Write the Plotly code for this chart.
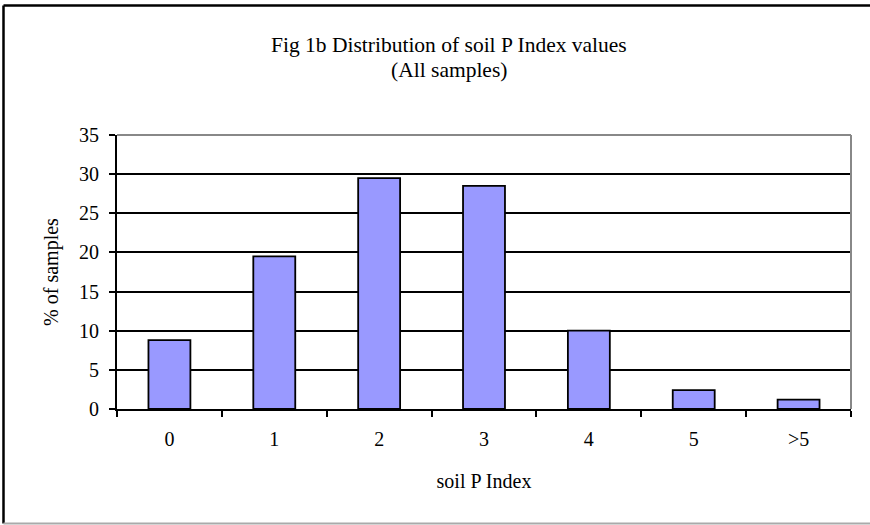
import plotly.graph_objects as go

categories = ["0", "1", "2", "3", "4", "5", ">5"]
values = [8.8, 19.5, 29.5, 28.5, 10.0, 2.4, 1.2]
y_ticks = [0, 5, 10, 15, 20, 25, 30, 35]
title_lines = ["Fig 1b Distribution of soil P Index values", "(All samples)"]

W, H = 870, 525
L, R, T, B = 117, 851, 135, 409

def px(x):
    return (x - L) / (R - L)

def py(y):
    return (B - y) / (B - T)

fig = go.Figure(go.Bar(
    x=categories, y=values,
    marker=dict(color="#9999FF", line=dict(color="black", width=1.8)),
))

font = "Liberation Serif, Times New Roman, serif"
FS = 20

fig.update_layout(
    width=W, height=H,
    margin=dict(l=L, r=W - R, t=T, b=H - B),
    paper_bgcolor="white", plot_bgcolor="white",
    bargap=0.6,
    showlegend=False,
    font=dict(family=font, size=FS, color="black"),
    xaxis=dict(
        type="category",
        showline=True, linecolor="black", linewidth=1.8,
        ticks="outside", tickson="boundaries", ticklen=6, tickwidth=1.5, tickcolor="black",
        showgrid=False,
        tickfont=dict(size=FS),
        ticklabelstandoff=11,
        title=dict(text="soil P Index", font=dict(size=FS), standoff=25),
    ),
    yaxis=dict(
        range=[0, 35],
        tickvals=y_ticks,
        showline=True, linecolor="black", linewidth=1.8,
        ticks="outside", ticklen=6, tickwidth=1.5, tickcolor="black",
        showgrid=True, gridcolor="black", gridwidth=1.5,
        zeroline=False,
        tickfont=dict(size=FS),
        ticklabelstandoff=6,
        title=dict(text="% of samples", font=dict(size=FS), standoff=15),
    ),
    annotations=[
        dict(text=title_lines[0], xref="paper", yref="paper", x=px(449), y=py(45),
             xanchor="center", yanchor="middle", showarrow=False,
             font=dict(family=font, size=21.5, color="black")),
        dict(text=title_lines[1], xref="paper", yref="paper", x=px(449), y=py(70),
             xanchor="center", yanchor="middle", showarrow=False,
             font=dict(family=font, size=21.5, color="black")),
    ],
    shapes=[
        dict(type="line", xref="paper", yref="paper", x0=0, x1=1, y0=1, y1=1,
             line=dict(color="#888888", width=2)),
        dict(type="line", xref="paper", yref="paper", x0=1, x1=1, y0=0, y1=1,
             line=dict(color="#888888", width=2)),
        dict(type="line", xref="paper", yref="paper", x0=px(3.5), x1=px(3.5), y0=py(5.5), y1=py(523.5),
             line=dict(color="black", width=2.5)),
        dict(type="line", xref="paper", yref="paper", x0=px(3.5), x1=px(875), y0=py(5.5), y1=py(5.5),
             line=dict(color="black", width=2.5)),
        dict(type="line", xref="paper", yref="paper", x0=px(3.5), x1=px(875), y0=py(523.5), y1=py(523.5),
             line=dict(color="#aaaaaa", width=2)),
    ],
)

fig.write_html("out.html", config={"displayModeBar": False},
               post_script="document.body.style.margin='0';document.body.style.overflow='hidden';")
